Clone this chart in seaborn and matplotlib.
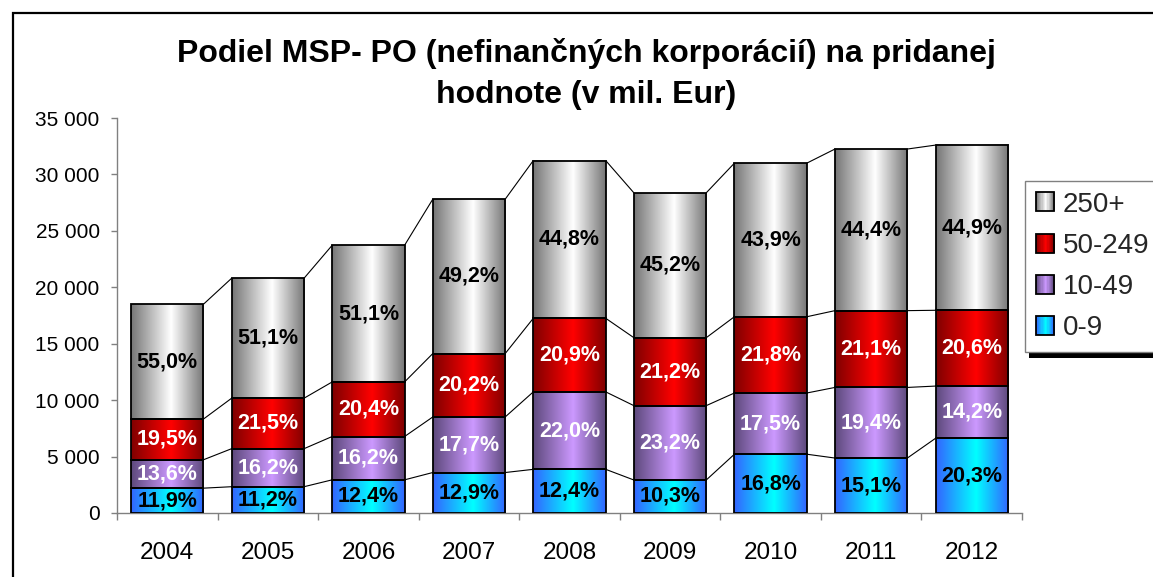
import numpy as np
import matplotlib
matplotlib.use("Agg")
import matplotlib.pyplot as plt
import seaborn as sns
from matplotlib.patches import Rectangle, Patch
from matplotlib.legend_handler import HandlerBase
from matplotlib.colors import to_rgb
from matplotlib.ticker import FuncFormatter, FixedLocator

# ---- data -------------------------------------------------------------
years = ["2004", "2005", "2006", "2007", "2008", "2009", "2010", "2011", "2012"]
totals = [18500, 20800, 23700, 27800, 31200, 28400, 31000, 32250, 32600]  # mil. Eur

series_names = ["0-9", "10-49", "50-249", "250+"]
share_0_9 = [11.9, 11.2, 12.4, 12.9, 12.4, 10.3, 16.8, 15.1, 20.3]
share_10_49 = [13.6, 16.2, 16.2, 17.7, 22.0, 23.2, 17.5, 19.4, 14.2]
share_50_249 = [19.5, 21.5, 20.4, 20.2, 20.9, 21.2, 21.8, 21.1, 20.6]
share_250 = [55.0, 51.1, 51.1, 49.2, 44.8, 45.2, 43.9, 44.4, 44.9]

title_lines = ["Podiel MSP- PO (nefinančných korporácií) na pridanej",
               "hodnote (v mil. Eur)"]

# ---- styling ----------------------------------------------------------
sns.set_theme(style="white")
plt.rcParams["font.family"] = ["Liberation Sans", "DejaVu Sans"]

# (edge colour, centre colour, label colour) per series
styles = {
    "0-9": ("#3366ff", "#00ffff", "black"),
    "10-49": ("#5e4a7d", "#cc99ff", "white"),
    "50-249": ("#800000", "#ff0000", "white"),
    "250+": ("#777777", "#ffffff", "black"),
}
shares = {"0-9": share_0_9, "10-49": share_10_49,
          "50-249": share_50_249, "250+": share_250}


def gradient_colors(edge, center, n=64, peak=0.55):
    e = np.array(to_rgb(edge))
    c = np.array(to_rgb(center))
    t = np.linspace(0, 1, n)
    w = np.where(t <= peak, t / peak, (1 - t) / (1 - peak))
    return e[None, :] * (1 - w[:, None]) + c[None, :] * w[:, None]


W, H = 1153, 577
fig = plt.figure(figsize=(W / 100, H / 100), dpi=100)
ax = fig.add_axes([117 / W, 1 - 513 / H, (1022 - 117) / W, (513 - 118) / H])

bar_w = 0.72
totals_arr = np.array(totals, dtype=float)
bottom = np.zeros(len(years))
layer_patches = []
for name in series_names:
    vals = totals_arr * np.array(shares[name]) / 100.0
    n_before = len(ax.patches)
    sns.barplot(x=years, y=vals, order=years, bottom=bottom, width=bar_w,
                color=styles[name][1], saturation=1, errorbar=None,
                edgecolor="black", linewidth=1.3, ax=ax, zorder=3)
    patches = ax.patches[n_before:]
    layer_patches.append(patches)
    edge, center, txt_col = styles[name]
    grad = gradient_colors(edge, center)[None, :, :]
    for p, s in zip(patches, shares[name]):
        x0, y0, w, h = p.get_x(), p.get_y(), p.get_width(), p.get_height()
        ax.imshow(grad, extent=[x0, x0 + w, y0, y0 + h], aspect="auto",
                  interpolation="bilinear", zorder=2.5)
        p.set_facecolor("none")
        ax.text(x0 + w / 2, y0 + h / 2, f"{s:.1f}%".replace(".", ","),
                ha="center", va="center", fontsize=15.5, fontweight="bold",
                color=txt_col, zorder=4)
    bottom = bottom + vals

# series lines joining the tops of each stacked segment
for patches in layer_patches:
    for a, b in zip(patches[:-1], patches[1:]):
        ax.plot([a.get_x() + a.get_width(), b.get_x()],
                [a.get_y() + a.get_height(), b.get_y() + b.get_height()],
                color="black", lw=0.8, zorder=2)

ax.set_xlim(-0.5, len(years) - 0.5)
ax.set_ylim(0, 35000)
ax.set_yticks(np.arange(0, 35001, 5000))
ax.yaxis.set_major_formatter(FuncFormatter(lambda v, _: f"{v:,.0f}".replace(",", " ")))
ax.set_xlabel("")
ax.set_ylabel("")

for side in ("top", "right"):
    ax.spines[side].set_visible(False)
for side in ("left", "bottom"):
    ax.spines[side].set_color("#808080")
    ax.spines[side].set_linewidth(1.0)

ax.tick_params(axis="y", which="major", direction="out", length=4.5, width=1,
               color="#808080", labelsize=15, labelcolor="black", pad=8, left=True)
ax.set_xticks(range(len(years)))
ax.set_xticklabels(years)
ax.tick_params(axis="x", which="major", length=0, labelsize=17.5,
               labelcolor="black", pad=21)
ax.xaxis.set_minor_locator(FixedLocator(np.arange(-0.5, len(years), 1.0)))
ax.tick_params(axis="x", which="minor", direction="out", length=5, width=1,
               color="#808080", bottom=True)

# title
fig.text(586 / W, 1 - 62 / H, title_lines[0], ha="center", va="baseline",
         fontsize=23, fontweight="bold", color="black")
fig.text(586 / W, 1 - 103 / H, title_lines[1], ha="center", va="baseline",
         fontsize=23, fontweight="bold", color="black")


# legend with gradient-filled square keys
class GradientKey(HandlerBase):
    def __init__(self, edge, center):
        super().__init__()
        self.cols = gradient_colors(edge, center, n=16)

    def create_artists(self, legend, orig_handle, xdescent, ydescent,
                       width, height, fontsize, trans):
        size = min(width, height)
        x0 = -xdescent + (width - size) / 2
        y0 = -ydescent + (height - size) / 2
        n = len(self.cols)
        arts = []
        for k, c in enumerate(self.cols):
            arts.append(Rectangle((x0 + k * size / n, y0), size / n * 1.05, size,
                                  facecolor=c, edgecolor="none",
                                  antialiased=False, transform=trans))
        arts.append(Rectangle((x0, y0), size, size, facecolor="none",
                              edgecolor="black", lw=1.3, transform=trans))
        return arts


legend_order = series_names[::-1]
handles = [Patch(label=n) for n in legend_order]
hmap = {h: GradientKey(styles[n][0], styles[n][1]) for h, n in zip(handles, legend_order)}
leg = fig.legend(handles=handles, labels=legend_order, handler_map=hmap,
                 loc="upper left", bbox_to_anchor=(1025 / W, 1 - 181 / H),
                 bbox_transform=fig.transFigure, fontsize=20, frameon=True,
                 fancybox=False, edgecolor="#808080", framealpha=1,
                 borderpad=0.38, labelspacing=0.55, handlelength=0.68,
                 handleheight=0.68, handletextpad=0.3, borderaxespad=0)
leg.get_frame().set_linewidth(1.0)
leg.set_zorder(6)

fig.canvas.draw()
bb = leg.get_window_extent()
inv = fig.transFigure.inverted()
(sx0, sy0) = inv.transform((bb.x0 + 4, bb.y0 - 6))
(sx1, sy1) = inv.transform((bb.x1 + 4, bb.y1 - 6))
fig.add_artist(Rectangle((sx0, sy0), sx1 - sx0, sy1 - sy0, facecolor="black",
                         edgecolor="none", transform=fig.transFigure, zorder=5))

# outer chart-area border
fig.add_artist(Rectangle((13 / W, -0.05), 1.2, 1 - 13 / H + 0.05, fill=False,
                         edgecolor="black", lw=1.6, transform=fig.transFigure,
                         zorder=7))

fig.savefig("out.png", dpi=100)
